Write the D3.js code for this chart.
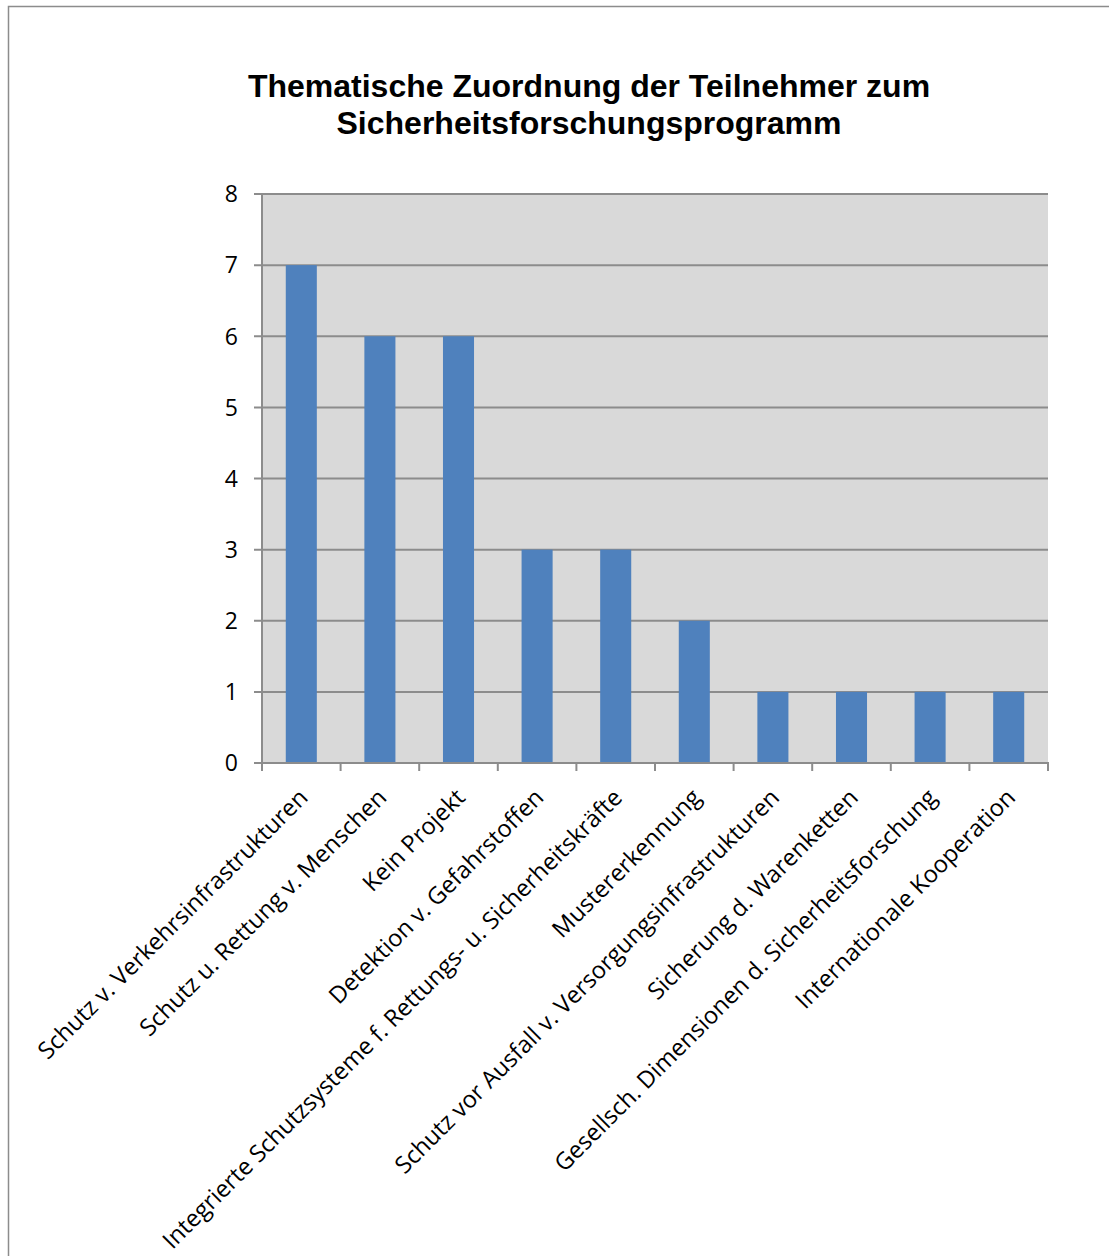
<!DOCTYPE html>
<html><head><meta charset="utf-8">
<script src="https://cdn.jsdelivr.net/npm/d3@7"></script>
<style>body{margin:0;background:#fff}svg{display:block}</style>
</head><body>
<script>
const categories = ["Schutz v. Verkehrsinfrastrukturen","Schutz u. Rettung v. Menschen","Kein Projekt","Detektion v. Gefahrstoffen","Integrierte Schutzsysteme f. Rettungs- u. Sicherheitskräfte","Mustererkennung","Schutz vor Ausfall v. Versorgungsinfrastrukturen","Sicherung d. Warenketten","Gesellsch. Dimensionen d. Sicherheitsforschung","Internationale Kooperation"];
const values = [7,6,6,3,3,2,1,1,1,1];
const yTicks = [0,1,2,3,4,5,6,7,8];
const titleLines = ["Thematische Zuordnung der Teilnehmer zum","Sicherheitsforschungsprogramm"];

const W=1109,H=1256;
const svg=d3.select("body").append("svg").attr("width",W).attr("height",H);
svg.append("rect").attr("x",8.5).attr("y",6.5).attr("width",1200).attr("height",1400)
  .attr("fill","none").attr("stroke","#8c8c8c").attr("stroke-width",1.5);

const L=262,R=1048,T=194,B=763;
const x=d3.scaleBand().domain(categories).range([L,R]);
const y=d3.scaleLinear().domain([0,8]).range([B,T]);

svg.append("rect").attr("x",L).attr("y",T).attr("width",R-L).attr("height",B-T).attr("fill","#d9d9d9");

svg.selectAll("line.grid").data(yTicks).enter().append("line")
  .attr("x1",L-8).attr("x2",R).attr("y1",d=>y(d)).attr("y2",d=>y(d))
  .attr("stroke","#8c8c8c").attr("stroke-width",2);

const bw=x.step()*0.395;
svg.selectAll("rect.bar").data(values).enter().append("rect")
  .attr("x",(d,i)=>x(categories[i])+x.bandwidth()/2-bw/2)
  .attr("y",d=>y(d)).attr("width",bw).attr("height",d=>B-y(d))
  .attr("fill","#4f81bd");

svg.append("line").attr("x1",L).attr("x2",L).attr("y1",T).attr("y2",B+1).attr("stroke","#8c8c8c").attr("stroke-width",2);
svg.append("line").attr("x1",L-8).attr("x2",R+1).attr("y1",B).attr("y2",B).attr("stroke","#8c8c8c").attr("stroke-width",2);
const xt=d3.range(categories.length+1).map(i=>L+i*x.step());
svg.selectAll("line.xt").data(xt).enter().append("line")
  .attr("x1",d=>d).attr("x2",d=>d).attr("y1",B).attr("y2",B+8).attr("stroke","#8c8c8c").attr("stroke-width",2);

const lf="'Open Sans', sans-serif";
svg.selectAll("text.yl").data(yTicks).enter().append("text")
  .attr("x",L-24).attr("y",d=>y(d)).attr("dy","0.36em").attr("text-anchor","end")
  .attr("font-family",lf).attr("font-size",23).attr("fill","#000").text(d=>d);

svg.selectAll("text.xl").data(categories).enter().append("text")
  .attr("transform",d=>`translate(${x(d)+x.bandwidth()/2+8},${B+36}) rotate(-45)`)
  .attr("text-anchor","end")
  .attr("font-family",lf).attr("font-size",23.7).attr("fill","#000").text(d=>d);

svg.selectAll("text.title").data(titleLines).enter().append("text")
  .attr("x",589).attr("y",(d,i)=>97+i*37).attr("text-anchor","middle")
  .attr("font-family","'Liberation Sans', Arial, sans-serif").attr("font-weight","bold")
  .attr("font-size",32).attr("fill","#000").text(d=>d);
</script>
</body></html>
